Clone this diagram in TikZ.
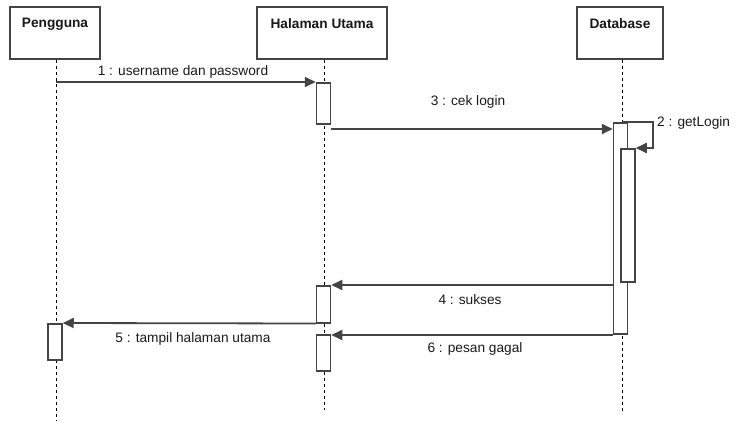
\documentclass[tikz,border=0pt]{standalone}
\usepackage{fontspec}
\setmainfont{Liberation Sans}
\usetikzlibrary{arrows.meta}
\definecolor{ink}{HTML}{444444}
\begin{document}
\begin{tikzpicture}[x=1pt,y=-1pt,
  every node/.style={font=\fontsize{13.7}{16}\selectfont},
  actorbox/.style={draw=ink,line width=1.6pt,fill=white,minimum height=52pt,inner sep=0pt},
  actortitle/.style={font=\fontsize{13.7}{16}\selectfont\bfseries,anchor=north,inner sep=0pt,text=black!90},
  lifeline/.style={draw=black,line width=0.7pt,dash pattern=on 3pt off 3pt},
  actbar/.style={draw=ink,line width=1.5pt,fill=white,minimum width=14pt,inner sep=0pt,anchor=north},
  msg/.style={draw=ink,line width=1.8pt,-{Triangle[length=11pt,width=10pt]}},
  msglabel/.style={text=black!90,inner sep=0pt}]
\useasboundingbox (0,0) rectangle (736,423);

% actors
\node[actorbox,minimum width=90pt] (pg) at (55,33) {};
\node[actorbox,minimum width=130pt] (hu) at (322,33) {};
\node[actorbox,minimum width=86pt] (db) at (620,33) {};
\node[actortitle] (pgT) at ([yshift=-12pt]pg.north) {Pengguna};
\node[actortitle] (huT) at ([yshift=-12pt]hu.north) {Halaman Utama};
\node[actortitle] (dbT) at ([yshift=-12pt]db.north) {Database};

% lifeline ends
\coordinate (pgEnd) at (56,420);
\coordinate (huEnd) at (324,410);
\coordinate (dbEnd) at (622,413);
\draw[lifeline] (pgEnd |- pg.south) -- (pgEnd);
\draw[lifeline] (huEnd |- hu.south) -- (huEnd);
\draw[lifeline] (dbEnd |- db.south) -- (dbEnd);

% activation bars
\node[actbar,minimum height=41pt] (h1) at (323.5,82) {};
\node[actbar,minimum height=37pt] (h2) at (323.5,285) {};
\node[actbar,minimum height=36pt] (h3) at (323.5,334) {};
\node[actbar,minimum height=36pt] (p1) at (55,323) {};
\node[actbar,minimum height=211pt] (d1) at (620.5,122) {};
\node[actbar,minimum height=133pt] (d2) at (628,148) {};

% message 1
\coordinate (m1s) at (56,82);
\draw[msg] (m1s) -- (h1.north west);
\node[msglabel] (l1) at (183,72) {1 : username dan password};

% message 3
\coordinate (m3s) at ([yshift=-4.5pt]h1.south east);
\draw[msg] (m3s) -- (d1.west |- m3s);
\node[msglabel] (l3) at (468,102) {3 : cek login};

% message 2 (self call)
\coordinate (m2s) at (622,122);
\coordinate (m2r) at (653,122);
\draw[msg] (m2s) -- (m2r) -- (m2r |- d2.north) -- (d2.north east);
\node[msglabel,anchor=west] (l2) at (657,123) {2 : getLogin};

% message 4
\draw[msg] (d1.west |- h2.north) -- (h2.north east);
\node[msglabel] (l4) at (470,300) {4 : sukses};

% message 5
\draw[msg] (h2.south west) -- (p1.north east);
\node[msglabel] (l5) at (193,339) {5 : tampil halaman utama};

% message 6
\coordinate (m6s) at ([yshift=-0.5pt]d1.south west);
\draw[msg] (m6s) -- (m6s -| h3.north east);
\node[msglabel] (l6) at (475,349) {6 : pesan gagal};
\end{tikzpicture}
\end{document}
